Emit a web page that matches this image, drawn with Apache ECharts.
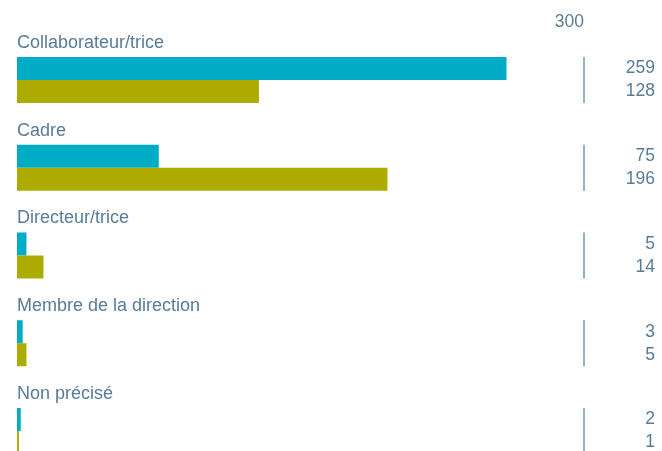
<!DOCTYPE html>
<html>
<head>
<meta charset="utf-8">
<script src="https://cdn.jsdelivr.net/npm/echarts@6/dist/echarts.min.js"></script>
<style>
html,body{margin:0;padding:0;background:#fff;}
#c{width:662px;height:451px;}
</style>
</head>
<body>
<div id="c"></div>
<script>
const categories = ['Collaborateur/trice', 'Cadre', 'Directeur/trice', 'Membre de la direction', 'Non précisé'];
const seriesA = [259, 75, 5, 3, 2];
const seriesB = [128, 196, 14, 5, 1];
const axisMax = 300;

const textColor = '#587c98';
const font = 'Liberation Sans';

const chart = echarts.init(document.getElementById('c'), null, {renderer: 'canvas'});
const valueLabel = (dy) => ({
  show: true, position: 'inside', align: 'right', verticalAlign: 'middle',
  offset: [71, dy], formatter: p => p.value[2], color: textColor,
  textBorderWidth: 0, textBorderColor: 'transparent', opacity: 1,
  fontFamily: font, fontSize: 17.5
});
chart.setOption({
  animation: false,
  grid: {left: 17, width: 567, top: 36.1, height: 438.75, containLabel: false, outerBoundsMode: 'none'},
  xAxis: {
    type: 'value', position: 'top', min: 0, max: axisMax, interval: axisMax,
    axisLine: {show: false}, axisTick: {show: false}, splitLine: {show: false},
    axisLabel: {showMinLabel: false, align: 'right', margin: 4.5, color: textColor,
      fontFamily: font, fontSize: 17.5}
  },
  yAxis: {
    type: 'category', inverse: true, data: categories,
    axisLine: {show: false}, axisTick: {show: false},
    axisLabel: {inside: true, margin: 0, align: 'left', verticalAlign: 'bottom',
      lineHeight: 74, interval: 0, color: textColor, fontFamily: font, fontSize: 18}
  },
  series: [
    {type: 'bar', data: seriesA, barWidth: 23, barGap: '0%', itemStyle: {color: '#00acc5'}},
    {type: 'bar', data: seriesB, barWidth: 23, barGap: '0%', itemStyle: {color: '#adab00'}},
    {type: 'scatter', data: categories.map(c => [axisMax, c]), symbol: 'rect',
      symbolSize: [2, 46], itemStyle: {color: '#7a9fb5'}, z: 3},
    {type: 'scatter', data: categories.map((c, i) => [axisMax, c, seriesA[i]]), symbolSize: 1,
      itemStyle: {color: '#ffffff', opacity: 0}, label: valueLabel(-11.5)},
    {type: 'scatter', data: categories.map((c, i) => [axisMax, c, seriesB[i]]), symbolSize: 1,
      itemStyle: {color: '#ffffff', opacity: 0}, label: valueLabel(11.5)}
  ]
});
</script>
</body>
</html>
